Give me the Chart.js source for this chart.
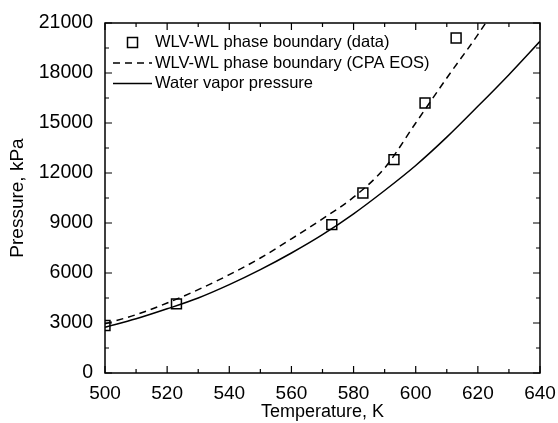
<!DOCTYPE html>
<html lang="en">
<head>
  <meta charset="UTF-8">
  <title>WLV-WL phase boundary</title>
  <script src="https://cdn.jsdelivr.net/npm/chart.js"></script>
  <style>
    body { margin: 0; background: #fff; }
    canvas { display: block; }
  </style>
</head>
<body>
  <canvas id="chartCanvas" width="558" height="423"></canvas>

  <script>
    // measured points
    const dataT = [500, 523, 573, 583, 593, 603, 613];
    const dataP = [2850, 4150, 8900, 10800, 12800, 16200, 20100];

    // CPA EOS curve
    const eosT = [500, 510, 520, 530, 540, 550, 560, 570, 580, 590, 600, 610, 620, 625];
    const eosP = [2950, 3500, 4200, 5000, 5900, 6900, 8050, 9250, 10550, 12300, 15000, 17700, 20300, 21700];

    // water vapor pressure
    const vapT = [500, 510, 520, 530, 540, 550, 560, 570, 580, 590, 600, 610, 620, 630, 640];
    const vapP = [2750, 3250, 3850, 4500, 5300, 6200, 7200, 8300, 9550, 10950, 12450, 14150, 16000, 17900, 19900];

    const xTicks = [500, 520, 540, 560, 580, 600, 620, 640];
    const yTicks = [0, 3000, 6000, 9000, 12000, 15000, 18000, 21000];

    const toXY = (xs, ys) => xs.map((x, i) => ({ x: x, y: ys[i] }));
    const FONT = 'Arial, "Liberation Sans", sans-serif';

    // frame + inward ticks on all four sides
    const frameTicks = {
      id: 'frameTicks',
      afterDraw(chart) {
        const c = chart.ctx, a = chart.chartArea;
        const xs = chart.scales.x, ys = chart.scales.y;
        c.save();
        c.strokeStyle = '#000';
        c.lineWidth = 1.5;
        c.strokeRect(a.left, a.top, a.right - a.left, a.bottom - a.top);
        c.lineWidth = 1.2;
        c.beginPath();
        for (let v = 500; v <= 640; v += 10) {
          const px = xs.getPixelForValue(v);
          const len = xTicks.includes(v) ? 7 : 4;
          c.moveTo(px, a.bottom); c.lineTo(px, a.bottom - len);
          c.moveTo(px, a.top); c.lineTo(px, a.top + len);
        }
        for (let v = 0; v <= 21000; v += 1500) {
          const py = ys.getPixelForValue(v);
          const len = yTicks.includes(v) ? 7 : 4;
          c.moveTo(a.left, py); c.lineTo(a.left + len, py);
          c.moveTo(a.right, py); c.lineTo(a.right - len, py);
        }
        c.stroke();
        c.restore();
      }
    };

    // legend inside plot, top-left
    const insideLegend = {
      id: 'insideLegend',
      afterDraw(chart) {
        const c = chart.ctx, a = chart.chartArea;
        c.save();
        c.font = '16.5px ' + FONT;
        c.fillStyle = '#000';
        c.strokeStyle = '#000';
        c.textBaseline = 'middle';
        chart.data.datasets.forEach((ds, i) => {
          const y = a.top + 19.5 + i * 20.5;
          const x0 = a.left + 8, x1 = a.left + 47;
          c.lineWidth = 1.5;
          if (ds.showLine) {
            c.setLineDash(ds.borderDash || []);
            c.beginPath(); c.moveTo(x0, y); c.lineTo(x1, y); c.stroke();
            c.setLineDash([]);
          } else {
            c.strokeRect((x0 + x1) / 2 - 5, y - 5, 10, 10);
          }
          c.fillText(ds.label, a.left + 50, y);
        });
        c.restore();
      }
    };

    const ctx = document.getElementById('chartCanvas').getContext('2d');
    new Chart(ctx, {
      type: 'scatter',
      data: {
        datasets: [{
          label: 'WLV-WL phase boundary (data)',
          data: toXY(dataT, dataP),
          showLine: false,
          pointStyle: 'rect',
          pointRadius: 7,
          pointBorderWidth: 1.5,
          pointBorderColor: '#000',
          pointBackgroundColor: 'rgba(0,0,0,0)',
          clip: 0
        }, {
          label: 'WLV-WL phase boundary (CPA EOS)',
          data: toXY(eosT, eosP),
          showLine: true,
          borderColor: '#000',
          borderWidth: 1.5,
          borderDash: [7, 5],
          pointRadius: 0,
          cubicInterpolationMode: 'monotone',
          clip: 0
        }, {
          label: 'Water vapor pressure',
          data: toXY(vapT, vapP),
          showLine: true,
          borderColor: '#000',
          borderWidth: 1.5,
          pointRadius: 0,
          cubicInterpolationMode: 'monotone',
          clip: 0
        }]
      },
      options: {
        responsive: false,
        animation: false,
        layout: { padding: { top: 23, right: 18, left: 0, bottom: 0 } },
        plugins: { legend: { display: false }, tooltip: { enabled: false } },
        scales: {
          x: {
            type: 'linear', min: 500, max: 640,
            afterBuildTicks: s => { s.ticks = xTicks.map(v => ({ value: v })); },
            grid: { display: false },
            border: { display: false },
            ticks: { color: '#000', font: { family: FONT, size: 19 }, padding: 1, maxRotation: 0 },
            title: { display: true, text: 'Temperature, K', color: '#000', font: { family: FONT, size: 18 }, padding: { top: 0, bottom: 0 } },
            afterFit: s => { s.height = 50; }
          },
          y: {
            min: 0, max: 21000,
            afterBuildTicks: s => { s.ticks = yTicks.map(v => ({ value: v })); },
            grid: { display: false },
            border: { display: false },
            ticks: { color: '#000', font: { family: FONT, size: 19.5 }, padding: 4, callback: v => String(v) },
            title: { display: true, text: 'Pressure, kPa', color: '#000', font: { family: FONT, size: 19 }, padding: { top: 6, bottom: 6 } },
            afterFit: s => { s.width = 105; }
          }
        }
      },
      plugins: [frameTicks, insideLegend]
    });
  </script>
</body>
</html>
